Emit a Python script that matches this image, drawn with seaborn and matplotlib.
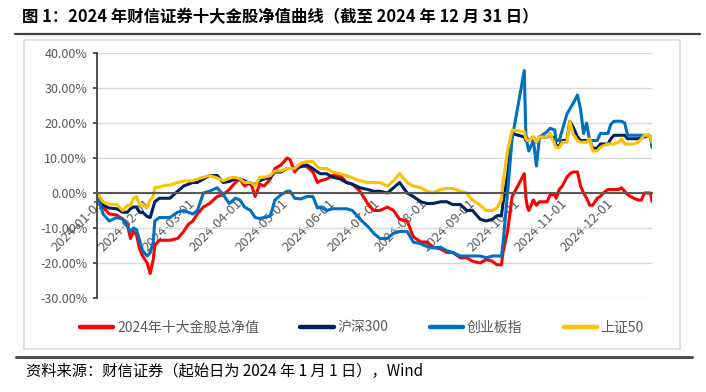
import matplotlib
matplotlib.use('Agg')
import matplotlib.pyplot as plt
from matplotlib.patches import Rectangle
from matplotlib.lines import Line2D
import seaborn as sns
import pandas as pd

# 日期（2024年）与各序列累计收益率（%）
dates = ['01-01', '01-05', '01-09', '01-14', '01-18', '01-21', '01-23', '01-25', '01-27', '01-29',
         '01-31', '02-03', '02-05', '02-07', '02-08', '02-11', '02-15', '02-18', '02-23', '02-27',
         '03-01', '03-04', '03-07', '03-11', '03-15', '03-20', '03-24', '03-28', '04-01', '04-04',
         '04-07', '04-11', '04-14', '04-17', '04-20', '04-24', '04-27', '05-01', '05-05', '05-07',
         '05-10', '05-14', '05-18', '05-22', '05-25', '05-27', '05-31', '06-04', '06-09', '06-13',
         '06-17', '06-22', '06-27', '07-01', '07-05', '07-10', '07-14', '07-18', '07-23', '07-27',
         '08-01', '08-05', '08-09', '08-14', '08-18', '08-22', '08-27', '08-31', '09-04', '09-09',
         '09-13', '09-17', '09-20', '09-23', '09-24', '09-27', '09-30', '10-08', '10-09', '10-10',
         '10-11', '10-14', '10-16', '10-18', '10-23', '10-25', '10-28', '10-29', '10-31', '11-02',
         '11-05', '11-07', '11-09', '11-12', '11-14', '11-16', '11-18', '11-20', '11-22', '11-25',
         '11-27', '11-29', '12-02', '12-04', '12-06', '12-09', '12-11', '12-13', '12-15', '12-17',
         '12-19', '12-22', '12-24', '12-26', '12-29', '12-30', '12-31']

golden = [0, -4, -6, -6.3, -7.5, -9, -13, -11, -12, -16,
          -18, -20, -23, -19, -15, -13.5, -13.5, -13.5, -13, -11,
          -9, -8, -6, -4, -3, -1, -0.5, 1, 3, 4,
          2, 3, -1, 2.5, 2, 4, 7, 8, 10, 9.5,
          6, 8, 7.5, 6, 3, 3.5, 4, 5, 5, 3,
          2.5, 0.5, -3, -5, -5, -4, -5, -7.5, -8, -12.5,
          -14, -14, -15.5, -16, -17, -17, -18.5, -18.5, -19.5, -20,
          -19, -19.5, -20.5, -20.5, -17, -11, -1, 5.5, -1, -4,
          -5, -2, -3.5, -2.5, -2.5, -0.5, -0.5, -1.5, 1, 2,
          4.5, 5.5, 6, 6, 2, 0, -1.5, -3.5, -3.5, -1.5,
          -1, 0, 1, 1, 1, 1, 1.5, 0.5, -0.5, -1,
          -1.5, -2, -2, 0, 0, 0, -2.5]

hs300 = [0, -3.5, -4.3, -4.5, -5.5, -5.5, -4.5, -4, -4, -5.5,
         -5.5, -6.7, -7, -4, -2.5, -1.5, -1.5, -1.5, 0.5, 2,
         2.5, 3, 3, 4, 5, 5, 3, 3.3, 4, 4,
         3.5, 2.5, 2.5, 3.5, 4, 4.5, 6, 6, 7, 7,
         7, 7.5, 8, 7, 6, 5.5, 5.5, 4.5, 4, 3,
         2.5, 1.5, 1, 0.5, 0.5, 0, 1.5, 3, 0, -1,
         -2.5, -3, -3, -2.5, -2.5, -3.3, -3.3, -5, -5, -7.5,
         -8, -7.5, -6.5, -6.5, -3, 5, 17, 16, 15, 15.5,
         15, 16, 14.5, 16, 16, 16.5, 15.5, 13.5, 13.5, 15,
         15, 20.5, 19, 16, 15, 15, 15, 15, 12.8, 12.8,
         14, 14, 14, 15.5, 16.5, 16.5, 16.5, 16.5, 15.5, 15.5,
         15.5, 15.5, 16, 16, 16.5, 16, 14.5]

cyb = [0, -6, -8, -7, -7.5, -9.5, -11, -10, -10.5, -13.5,
       -16.5, -18, -17, -14, -8, -7, -7, -7, -5.5, -5,
       -5.5, -6, -5, 0, 0.5, 1.5, -0.5, -3, -1.5, -2,
       -4, -5, -7, -7.3, -7, -6.5, -2, -0.5, 0.5, 0.5,
       -1.5, -1.7, -1, -1, -4.3, -4, -5, -4.5, -4.5, -4.5,
       -5, -7.5, -9.5, -11.5, -13, -13, -11.5, -11, -11, -14,
       -14.5, -15.3, -15.7, -15.5, -16.5, -17, -18, -18, -18, -18,
       -18.5, -18, -18, -18, -14.5, 0, 15.5, 35, 17, 14,
       12, 15, 7.7, 16, 17.5, 18.5, 18, 15, 15, 18,
       22.5, 24, 25.5, 28, 24, 17, 20, 15, 15, 15,
       17, 17, 17, 19.7, 20.5, 20.5, 20.5, 20, 16.5, 16.5,
       16.5, 16.5, 16.5, 16.5, 16.5, 16, 13]

sz50 = [0, -2.5, -3.2, -3.3, -5, -3.5, -3.5, -1.5, -1, -3.5,
        -3.5, -4, -2, -1, 1.5, 1.7, 2.2, 2.3, 3, 3.4,
        3.5, 3.5, 4, 4.5, 5, 4.3, 3.5, 4.3, 4.5, 4,
        3, 3, 2, 4.5, 4.5, 5, 6.3, 6.3, 7, 7,
        7, 8.5, 9, 9, 7.5, 7, 7, 6, 5.5, 5,
        4.3, 3.5, 3, 3, 3, 2, 3.5, 5.5, 3, 2,
        1.5, 0.5, 0, 1, 1.3, 1.3, 0.5, 0, -2, -3.5,
        -5, -5, -4.3, -2, 3, 12, 18, 17.5, 15.5, 15,
        15, 16, 14.5, 16, 16, 17, 14, 13, 13, 14.5,
        14.5, 20.5, 17, 15, 14.5, 14.5, 14.5, 15.5, 12, 12,
        13, 13.5, 14, 14, 14, 14.5, 15.5, 14, 14, 14,
        14, 14.5, 15.5, 16.5, 16.5, 16, 14.5]

series_names = ['2024年十大金股总净值', '沪深300', '创业板指', '上证50']
series_colors = ['#FF0000', '#002060', '#0070C0', '#FFC000']
y_ticks = [-30, -20, -10, 0, 10, 20, 30, 40]
y_tick_labels = ['-30.00%', '-20.00%', '-10.00%', '0.00%', '10.00%', '20.00%', '30.00%', '40.00%']
x_tick_labels = ['2024-01-01', '2024-02-01', '2024-03-01', '2024-04-01', '2024-05-01', '2024-06-01',
                 '2024-07-01', '2024-08-01', '2024-09-01', '2024-10-01', '2024-11-01', '2024-12-01']

title = '图 1：2024 年财信证券十大金股净值曲线（截至 2024 年 12 月 31 日）'
source = '资料来源：财信证券（起始日为 2024 年 1 月 1 日），Wind'

wide = pd.DataFrame({'date': pd.to_datetime(['2024-' + d for d in dates])})
for name, vals in zip(series_names, [golden, hs300, cyb, sz50]):
    wide[name] = vals
df = wide.melt(id_vars='date', var_name='series', value_name='ret')

sns.set_theme(style='white')
plt.rcParams['font.family'] = ['Noto Sans CJK SC', 'DejaVu Sans']
plt.rcParams['axes.unicode_minus'] = False

grey = '#595959'
fig = plt.figure(figsize=(7.06, 3.92), dpi=100)
ax = fig.add_axes([97 / 706, 1 - 298 / 392, 555 / 706, 245 / 392])

sns.lineplot(data=df, x='date', y='ret', hue='series', hue_order=series_names,
             palette=dict(zip(series_names, series_colors)), linewidth=2.2, ax=ax)

# 横轴放在 0 处（先设置，否则会重置刻度标签）
for s in ['top', 'right']:
    ax.spines[s].set_visible(False)
ax.spines['bottom'].set_position(('data', 0))
ax.spines['bottom'].set_color(grey)
ax.spines['bottom'].set_linewidth(1.5)
ax.spines['left'].set_color('#404040')
ax.spines['left'].set_linewidth(1.3)

ax.set_xlim(pd.Timestamp('2024-01-01'), pd.Timestamp('2024-12-31'))
ax.set_ylim(-30, 40)
ax.set_yticks(y_ticks)
ax.set_yticklabels(y_tick_labels)
ax.set_xticks(pd.to_datetime(x_tick_labels))
ax.set_xticklabels(x_tick_labels)
ax.set_xlabel('')
ax.set_ylabel('')
ax.yaxis.grid(True, color='#d9d9d9', linewidth=1)
ax.set_axisbelow(True)

ax.tick_params(axis='x', direction='in', length=3, color=grey, labelcolor=grey,
               labelsize=9.5, pad=3, labelrotation=45)
ax.tick_params(axis='y', direction='out', length=3, color='#404040', labelcolor=grey,
               labelsize=9, pad=4, left=True)
for lab in ax.get_xticklabels():
    lab.set_ha('right')
    lab.set_rotation_mode('anchor')

handles, labels = ax.get_legend_handles_labels()
leg = ax.legend(handles, labels, loc='center', bbox_to_anchor=(362 / 706, 1 - 328 / 392),
                bbox_transform=fig.transFigure, ncol=4, frameon=False, fontsize=10,
                handlelength=2.4, handletextpad=0.25, columnspacing=3.0)
for line in leg.get_lines():
    line.set_linewidth(3.2)
for t in leg.get_texts():
    t.set_color(grey)

# 外框、标题线和底部来源
fig.patches.append(Rectangle((24 / 706, 1 - 349 / 392), 656 / 706, 309 / 392,
                             transform=fig.transFigure, fill=False,
                             edgecolor='#dcdcdc', linewidth=1.2))
fig.lines.append(Line2D([15 / 706, 700 / 706], [1 - 34 / 392] * 2,
                        transform=fig.transFigure, color='#404040', linewidth=1.6))
fig.lines.append(Line2D([16 / 706, 692 / 706], [1 - 357 / 392] * 2,
                        transform=fig.transFigure, color='#505050', linewidth=2.2))
fig.text(22 / 706, 1 - 17 / 392, title, fontsize=11.8, fontweight='bold',
         color='black', va='center', ha='left')
fig.text(26 / 706, 1 - 371 / 392, source, fontsize=11, style='italic',
         color='black', va='center', ha='left')

fig.savefig('out.png', dpi=100)
